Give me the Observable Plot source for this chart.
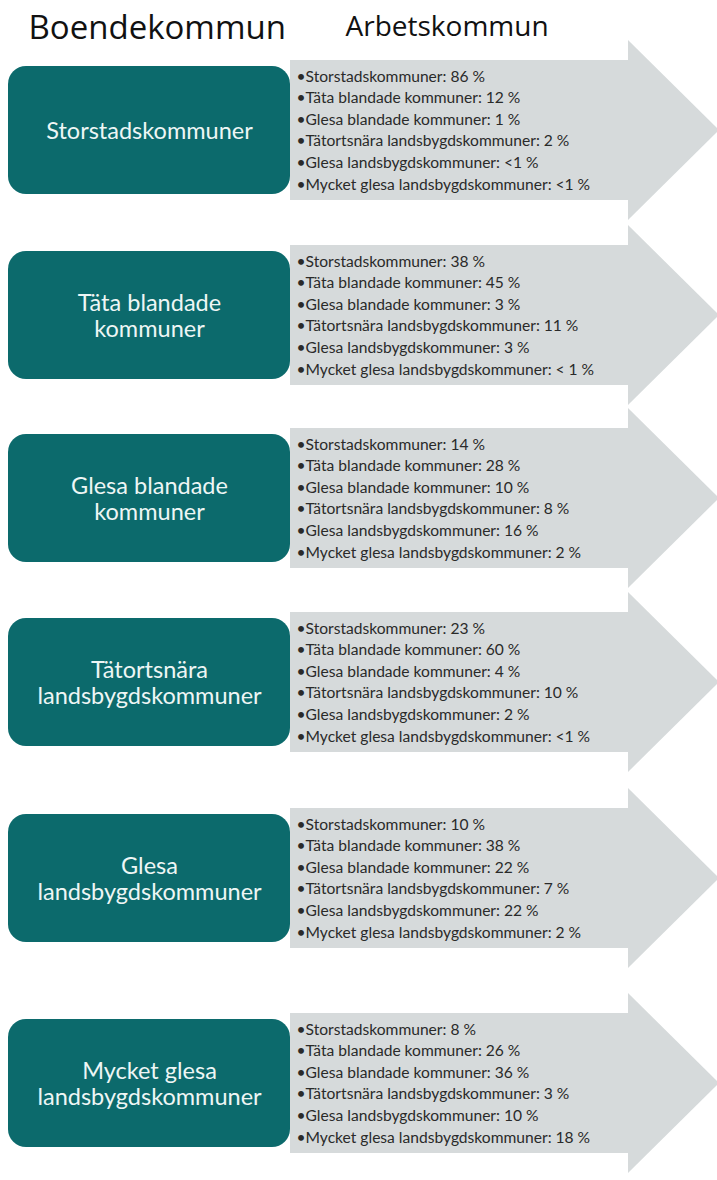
<!DOCTYPE html>
<html><head><meta charset="utf-8">
<script src="https://cdn.jsdelivr.net/npm/d3@7"></script>
<script src="https://cdn.jsdelivr.net/npm/@observablehq/plot@0.6"></script>
<style>body{margin:0;background:#fff;} #chart svg{display:block;}</style>
</head><body><div id="chart"></div>
<script>
// ---- data ----
const titles = ["Boendekommun", "Arbetskommun"];
const homeLabels = [
  "Storstadskommuner",
  "Täta blandade\nkommuner",
  "Glesa blandade\nkommuner",
  "Tätortsnära\nlandsbygdskommuner",
  "Glesa\nlandsbygdskommuner",
  "Mycket glesa\nlandsbygdskommuner"
];
const workCategories = [
  "Storstadskommuner",
  "Täta blandade kommuner",
  "Glesa blandade kommuner",
  "Tätortsnära landsbygdskommuner",
  "Glesa landsbygdskommuner",
  "Mycket glesa landsbygdskommuner"
];
const sharesStorstad   = ["86 %", "12 %", "1 %", "2 %", "<1 %", "<1 %"];
const sharesTata       = ["38 %", "45 %", "3 %", "11 %", "3 %", "< 1 %"];
const sharesGlesaBl    = ["14 %", "28 %", "10 %", "8 %", "16 %", "2 %"];
const sharesTatortsnara= ["23 %", "60 %", "4 %", "10 %", "2 %", "<1 %"];
const sharesGlesaLb    = ["10 %", "38 %", "22 %", "7 %", "22 %", "2 %"];
const sharesMycketGl   = ["8 %", "26 %", "36 %", "3 %", "10 %", "18 %"];
const shares = [sharesStorstad, sharesTata, sharesGlesaBl, sharesTatortsnara, sharesGlesaLb, sharesMycketGl];

// ---- layout ----
const W = 717, H = 1180;
const centers = [130, 315, 498, 682, 878, 1083];
const boxHalf = 64, bodyHalf = 70, headHalf = 90;
const boxX1 = 8, boxX2 = 290, bodyX2 = 628, tipX = 719;
const lineStep = 21.6;

const blocks = homeLabels.map((label, i) => ({i, label, c: centers[i]}));
const heads = blocks.flatMap(b => [
  {i: b.i, x: bodyX2, y1: b.c - headHalf, y2: b.c + headHalf},
  {i: b.i, x: tipX, y1: b.c, y2: b.c}
]);
const lines = blocks.flatMap(b => workCategories.map((cat, j) => ({
  i: b.i, j, text: "•" + cat + ": " + shares[b.i][j], y: b.c - 2.5 * lineStep + j * lineStep
})));

const chart = Plot.plot({
  width: W, height: H, margin: 0,
  x: {domain: [0, W], range: [0, W], axis: null},
  y: {domain: [0, H], range: [0, H], axis: null},
  style: {fontFamily: "Lato, 'Open Sans', sans-serif", background: "#fff"},
  marks: [
    Plot.rect(blocks, {x1: boxX2, x2: bodyX2 + 1, y1: d => d.c - bodyHalf, y2: d => d.c + bodyHalf, fill: "#d6dadb"}),
    Plot.areaY(heads, {x: "x", y1: "y1", y2: "y2", z: "i", fill: "#d6dadb", curve: "linear"}),
    Plot.rect(blocks, {x1: boxX1, x2: boxX2, y1: d => d.c - boxHalf, y2: d => d.c + boxHalf, rx: 18, fill: "#0c6a6c"}),
    Plot.text(blocks, {x: (boxX1 + boxX2) / 2, y: "c", text: "label", fill: "#eef6f5", fontSize: 23.5, lineHeight: 1.14}),
    Plot.text(lines, {x: 296, y: "y", text: "text", textAnchor: "start", fill: "#2a2a2a", fontSize: 15.6}),
    Plot.text([titles[0]], {x: 28, y: 28, text: d => d, textAnchor: "start", fontSize: 33, fill: "#111", fontFamily: "'Open Sans', sans-serif"}),
    Plot.text([titles[1]], {x: 345, y: 27, text: d => d, textAnchor: "start", fontSize: 28, fill: "#111", fontFamily: "'Open Sans', sans-serif"})
  ]
});
document.getElementById("chart").appendChild(chart);
</script>
</body></html>
